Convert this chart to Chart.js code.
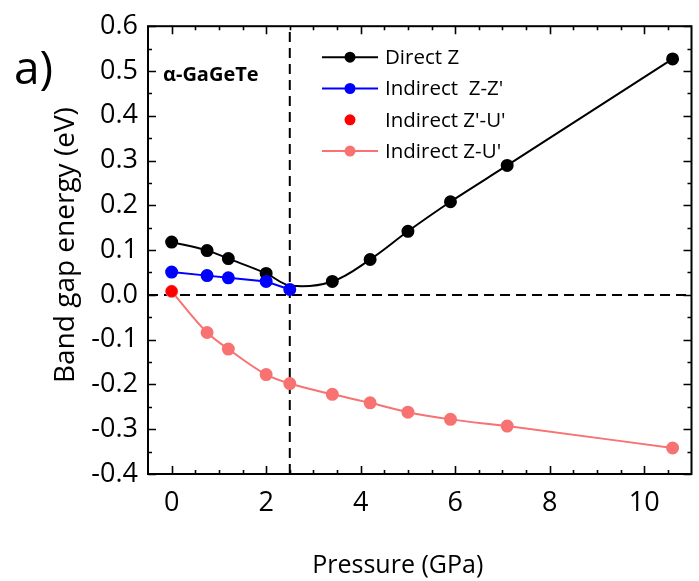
<!DOCTYPE html>
<html>
<head>
<meta charset="utf-8">
<title>Band gap vs pressure</title>
<script src="https://cdn.jsdelivr.net/npm/chart.js@4.4.0/dist/chart.umd.min.js"></script>
<style>
  html, body { margin: 0; padding: 0; background: #fff; }
  #wrap { width: 699px; height: 581px; position: relative; }
</style>
</head>
<body>
<div id="wrap"><canvas id="gapChart"></canvas></div>
<script>
// values (pressure in GPa, gap in eV)
const directP = [0, 0.75, 1.2, 2.0, 2.5, 3.4, 4.2, 5.0, 5.9, 7.1, 10.6];
const directGap = [0.118, 0.099, 0.081, 0.048, 0.021, 0.030, 0.079, 0.142, 0.208, 0.289, 0.527];
const indZZP = [0, 0.75, 1.2, 2.0, 2.5];
const indZZGap = [0.051, 0.043, 0.038, 0.030, 0.012];
const indZpUpP = [0];
const indZpUpGap = [0.008];
const indZUP = [0, 0.75, 1.2, 2.0, 2.5, 3.4, 4.2, 5.0, 5.9, 7.1, 10.6];
const indZUGap = [0.008, -0.084, -0.121, -0.178, -0.198, -0.222, -0.241, -0.262, -0.278, -0.293, -0.342];
const transitionP = 2.5;

// axes
const xTickValues = [0, 2, 4, 6, 8, 10];
const yTickValues = [-0.4, -0.3, -0.2, -0.1, 0.0, 0.1, 0.2, 0.3, 0.4, 0.5, 0.6];
const xRange = [-0.5, 11];
const yRange = [-0.4, 0.6];
const xTitle = "Pressure (GPa)";
const yTitle = "Band gap energy (eV)";
const panelLabel = "a)";
const materialLabel = "α-GaGeTe";

const FONT = "'Open Sans', 'Noto Sans', sans-serif";

function toPoints(xs, ys) {
  return xs.map((v, i) => ({ x: v, y: ys[i] }));
}

// inward ticks on all four sides + the box
const frameTicks = {
  id: "frameTicks",
  afterDraw(chart) {
    const ctx = chart.ctx;
    const a = chart.chartArea;
    const x = chart.scales.x;
    const y = chart.scales.y;
    ctx.save();
    ctx.strokeStyle = "#000";
    ctx.lineWidth = 1.6;
    ctx.beginPath();
    // x ticks, every 0.5, major every 2
    for (let v = 0; v <= 10.5 + 1e-9; v += 0.5) {
      const px = Math.round(x.getPixelForValue(v)) + 0.5;
      const len = (Math.abs(v % 2) < 1e-9) ? 8 : 4;
      ctx.moveTo(px, a.bottom); ctx.lineTo(px, a.bottom - len);
      ctx.moveTo(px, a.top); ctx.lineTo(px, a.top + len);
    }
    // y ticks, every 0.05, major every 0.1
    for (let k = -8; k <= 12; k++) {
      const v = k * 0.05;
      const py = Math.round(y.getPixelForValue(v)) + 0.5;
      const len = (k % 2 === 0) ? 8 : 4;
      ctx.moveTo(a.left, py); ctx.lineTo(a.left + len, py);
      ctx.moveTo(a.right, py); ctx.lineTo(a.right - len, py);
    }
    ctx.stroke();
    ctx.lineWidth = 2;
    ctx.strokeRect(a.left, a.top, a.right - a.left, a.bottom - a.top);
    ctx.restore();
  }
};

// key, titles and labels
const textBits = {
  id: "textBits",
  afterDraw(chart) {
    const ctx = chart.ctx;
    const a = chart.chartArea;
    ctx.save();
    ctx.fillStyle = "#000";

    // legend
    const keyX = a.left + 174;
    let keyY = a.top + 31;
    chart.data.datasets.forEach(ds => {
      if (!ds.inKey) return;
      if (ds.showLine !== false) {
        ctx.strokeStyle = ds.borderColor;
        ctx.lineWidth = 2;
        ctx.beginPath();
        ctx.moveTo(keyX, keyY); ctx.lineTo(keyX + 56, keyY);
        ctx.stroke();
      }
      ctx.fillStyle = ds.pointBackgroundColor;
      ctx.beginPath();
      ctx.arc(keyX + 28, keyY, 5.5, 0, Math.PI * 2);
      ctx.fill();
      ctx.fillStyle = "#000";
      ctx.font = "20.5px " + FONT;
      ctx.textAlign = "left";
      ctx.textBaseline = "middle";
      ctx.fillText(ds.label, keyX + 63, keyY + 1);
      keyY += 31.3;
    });

    ctx.font = "bold 20px " + FONT;
    ctx.textBaseline = "middle";
    ctx.fillText(materialLabel, a.left + 15, a.top + 49);

    ctx.font = "46px " + FONT;
    ctx.textBaseline = "alphabetic";
    ctx.fillText(panelLabel, 14, 84);

    ctx.font = "25px " + FONT;
    ctx.textAlign = "center";
    ctx.fillText(xTitle, (a.left + a.right) / 2 - 22, 573);

    ctx.font = "28px " + FONT;
    ctx.translate(74, (a.top + a.bottom) / 2 - 5);
    ctx.rotate(-Math.PI / 2);
    ctx.fillText(yTitle, 0, 0);
    ctx.restore();
  }
};

new Chart(document.getElementById("gapChart"), {
  type: "line",
  data: {
    datasets: [
      {
        label: "Direct Z",
        inKey: true,
        data: toPoints(directP, directGap),
        borderColor: "#000000",
        backgroundColor: "#000000",
        pointBackgroundColor: "#000000",
        pointRadius: directP.map(p => p === transitionP ? 0 : 5.5),
        borderWidth: 2,
        tension: 0.35,
        order: 2
      },
      {
        label: "Indirect  Z-Z'",
        inKey: true,
        data: toPoints(indZZP, indZZGap),
        borderColor: "#0000ff",
        backgroundColor: "#0000ff",
        pointBackgroundColor: "#0000ff",
        pointRadius: 5.5,
        borderWidth: 2,
        order: 1
      },
      {
        label: "Indirect Z'-U'",
        inKey: true,
        data: toPoints(indZpUpP, indZpUpGap),
        showLine: false,
        borderColor: "#ff0000",
        backgroundColor: "#ff0000",
        pointBackgroundColor: "#ff0000",
        pointRadius: 5.5,
        order: 0
      },
      {
        label: "Indirect Z-U'",
        inKey: true,
        data: toPoints(indZUP, indZUGap),
        borderColor: "#f87272",
        backgroundColor: "#f87272",
        pointBackgroundColor: "#f87272",
        pointRadius: 5.5,
        borderWidth: 2,
        cubicInterpolationMode: "monotone",
        order: 3
      },
      {
        label: "",
        data: [{ x: transitionP, y: yRange[0] }, { x: transitionP, y: yRange[1] }],
        borderColor: "#000000",
        borderWidth: 2,
        borderDash: [10, 6],
        pointRadius: 0,
        order: 5
      },
      {
        label: "",
        data: [{ x: xRange[0], y: 0 }, { x: xRange[1], y: 0 }],
        borderColor: "#000000",
        borderWidth: 2,
        borderDash: [10, 6],
        pointRadius: 0,
        order: 5
      }
    ]
  },
  options: {
    responsive: true,
    maintainAspectRatio: false,
    animation: false,
    events: [],
    layout: { padding: { top: 24, right: 1, left: 0, bottom: 0 } },
    plugins: {
      legend: { display: false },
      tooltip: { enabled: false }
    },
    scales: {
      x: {
        type: "linear",
        min: xRange[0],
        max: xRange[1],
        grid: { display: false, drawTicks: false },
        border: { display: false },
        afterBuildTicks: s => { s.ticks = xTickValues.map(v => ({ value: v })); },
        afterFit: s => { s.height = 107; },
        ticks: {
          color: "#000",
          padding: 13,
          maxRotation: 0,
          font: { family: FONT, size: 27 },
          callback: v => String(v)
        }
      },
      y: {
        type: "linear",
        min: yRange[0],
        max: yRange[1],
        grid: { display: false, drawTicks: false },
        border: { display: false },
        afterBuildTicks: s => { s.ticks = yTickValues.map(v => ({ value: v })); },
        afterFit: s => { s.width = 148; },
        ticks: {
          color: "#000",
          padding: 10,
          font: { family: FONT, size: 27 },
          callback: v => Number(v).toFixed(1)
        }
      }
    }
  },
  plugins: [frameTicks, textBits]
});
</script>
</body>
</html>
